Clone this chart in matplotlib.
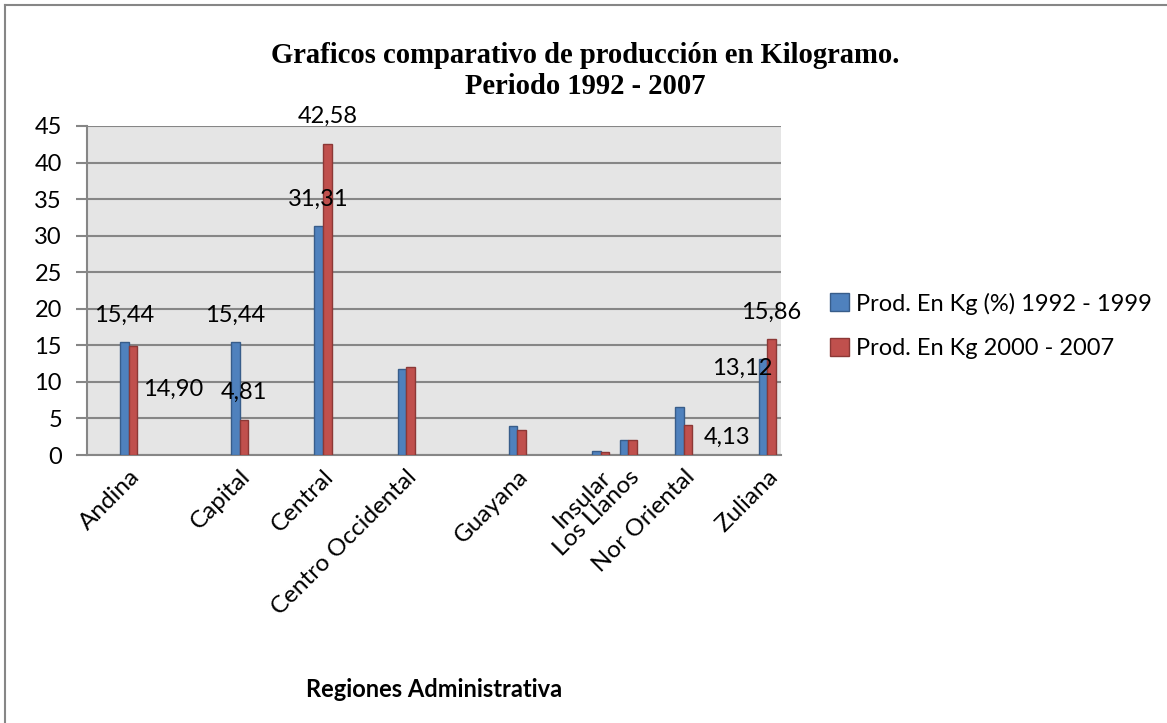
import numpy as np
import matplotlib
matplotlib.use('Agg')
import matplotlib.pyplot as plt
from matplotlib.lines import Line2D
from matplotlib.patches import Patch

regiones = ["Andina", "Capital", "Central", "Centro Occidental", "Guayana",
            "Insular", "Los Llanos", "Nor Oriental", "Zuliana"]
prod_1992_1999 = [15.44, 15.44, 31.31, 11.76, 4.0, 0.5, 2.0, 6.6, 13.12]
prod_2000_2007 = [14.90, 4.81, 42.58, 12.0, 3.37, 0.36, 2.1, 4.13, 15.86]
serie_1 = "Prod. En Kg (%) 1992 - 1999"
serie_2 = "Prod. En Kg 2000 - 2007"

# category slots on the (irregular) category axis
slot = [1.5, 5.5, 8.5, 11.5, 15.5, 18.5, 19.5, 21.5, 24.5]

# which values carry a data label, and the label offset (px) from the bar top
labels_1 = {0: (0, 27), 1: (0, 27), 2: (0, 27), 8: (-21, -9)}
labels_2 = {0: (40, -43), 1: (0, 27), 2: (0, 27), 7: (39, -13), 8: (0, 27)}

FONT = "Lato"
FS = 17
grid_c = "#868686"

fig = plt.figure(figsize=(11.67, 7.23), dpi=100)
ax = fig.add_axes([87/1167, (723-455)/723, 694/1167, 329/723])
ax.set_facecolor("#E5E5E5")

w = 0.31
x = np.array(slot)
b1 = ax.bar(x - w/2, prod_1992_1999, w, color="#4F81BD", edgecolor="#385D8A", linewidth=1, zorder=3)
b2 = ax.bar(x + w/2, prod_2000_2007, w, color="#C0504D", edgecolor="#8C3836", linewidth=1, zorder=3)

ax.set_xlim(0, 25)
ax.set_ylim(0, 45)
ax.set_yticks(range(0, 46, 5))
ax.yaxis.grid(True, color=grid_c, linewidth=1.5, zorder=1)
ax.set_axisbelow(True)
for s in ["top", "right"]:
    ax.spines[s].set_visible(False)
for s in ["left", "bottom"]:
    ax.spines[s].set_color(grid_c)
    ax.spines[s].set_linewidth(1.5)
ax.tick_params(axis="y", direction="out", length=8, width=1.5, color=grid_c, pad=10)
ax.tick_params(axis="x", length=0, pad=8)
for t in ax.get_yticklabels():
    t.set_fontfamily(FONT); t.set_fontsize(FS)

ax.set_xticks(x)
ax.set_xticklabels(regiones, rotation=45, ha="right", rotation_mode="anchor",
                   fontfamily=FONT, fontsize=17.5)

def fmt(v):
    return ("%.2f" % v).replace(".", ",")

for bars, vals, labs in [(b1, prod_1992_1999, labels_1), (b2, prod_2000_2007, labels_2)]:
    for i, (dx, dy) in labs.items():
        r = bars[i]
        ax.annotate(fmt(vals[i]), (r.get_x() + r.get_width()/2, vals[i]),
                    xytext=(dx, dy), textcoords="offset pixels",
                    ha="center", va="center", fontfamily=FONT, fontsize=FS,
                    annotation_clip=False, zorder=5)

ax.set_xlabel("Regiones Administrativa", fontfamily=FONT, fontsize=FS,
              fontweight="bold", labelpad=0)
ax.xaxis.set_label_coords(0.5, (455-678)/329)

fig.text(585/1167, 1 - 71/723, "Graficos comparativo de producción en Kilogramo.\nPeriodo 1992 - 2007",
         ha="center", va="center", fontfamily="Liberation Serif", fontweight="bold",
         fontsize=20.6, linespacing=1.15)

handles = [Patch(facecolor="#4F81BD", edgecolor="#385D8A"),
           Patch(facecolor="#C0504D", edgecolor="#8C3836")]
fig.legend(handles, [serie_1, serie_2], loc="center left",
           bbox_to_anchor=(821/1167, 1 - 326/723), frameon=False,
           prop={"family": FONT, "size": FS}, handlelength=0.8, handleheight=0.8,
           handletextpad=0.3, labelspacing=1.0, borderaxespad=0)

fig.add_artist(Line2D([5/1167, 5/1167], [0, 1 - 5/723], color=grid_c, linewidth=1.5))
fig.add_artist(Line2D([5/1167, 1], [1 - 5/723, 1 - 5/723], color=grid_c, linewidth=1.5))

fig.savefig("out.png", dpi=100)
